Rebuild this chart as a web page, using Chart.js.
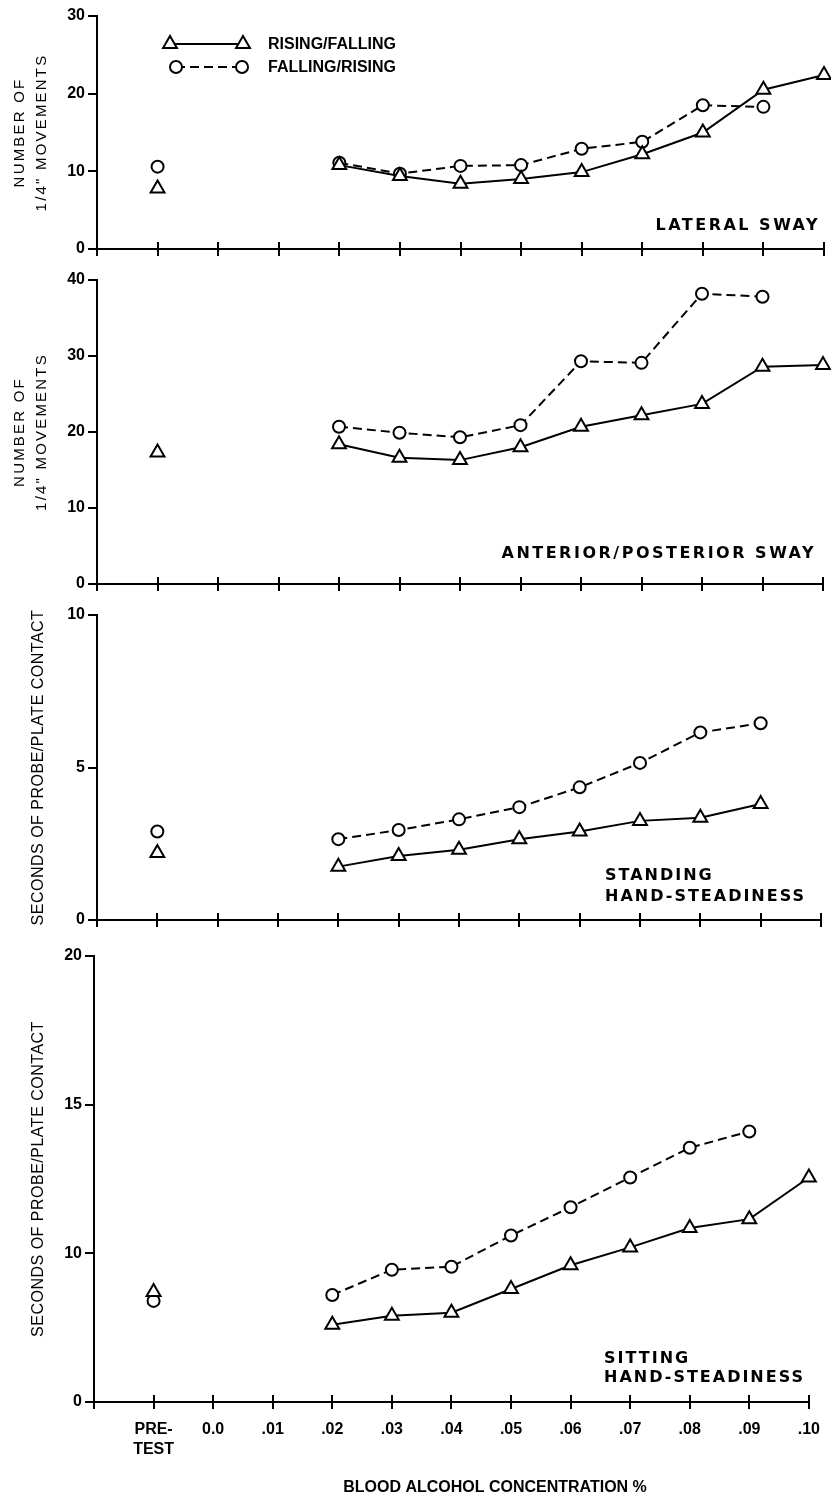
<!DOCTYPE html>
<html>
<head>
<meta charset="utf-8">
<script src="https://cdn.jsdelivr.net/npm/chart.js@4.4.1/dist/chart.umd.min.js"></script>
<style>
  body { margin: 0; background: #fff; }
  .panel { position: absolute; left: 0; }
</style>
</head>
<body>
<div class="panel" style="top:0px"><canvas id="lateral" width="831" height="262"></canvas></div>
<div class="panel" style="top:262px"><canvas id="anterior" width="831" height="335"></canvas></div>
<div class="panel" style="top:597px"><canvas id="standing" width="831" height="336"></canvas></div>
<div class="panel" style="top:933px"><canvas id="sitting" width="831" height="568"></canvas></div>
<script>
// x categories; the blank first one is the stretch of axis left of PRE-TEST
const categories = ['', ['PRE-', 'TEST'], '0.0', '.01', '.02', '.03', '.04', '.05', '.06', '.07', '.08', '.09', '.10'];

// values from PRE-TEST through .10
const lateralRising   = [7.8, null, null, 10.8, 9.4, 8.4, 9.0, 9.9, 12.2, 15.0, 20.5, 22.4];
const lateralFalling  = [10.6, null, null, 11.1, 9.7, 10.7, 10.8, 12.9, 13.8, 18.5, 18.3, null];
const apRising        = [17.3, null, null, 18.4, 16.6, 16.3, 18.0, 20.7, 22.2, 23.7, 28.6, 28.8];
const apFalling       = [null, null, null, 20.7, 19.9, 19.3, 20.9, 29.3, 29.1, 38.2, 37.8, null];
const standingRising  = [2.2, null, null, 1.75, 2.1, 2.3, 2.65, 2.9, 3.25, 3.35, 3.8, null];
const standingFalling = [2.9, null, null, 2.65, 2.95, 3.3, 3.7, 4.35, 5.15, 6.15, 6.45, null];
const sittingRising   = [8.7, null, null, 7.6, 7.9, 8.0, 8.8, 9.6, 10.2, 10.85, 11.15, 12.55];
const sittingFalling  = [8.4, null, null, 8.6, 9.45, 9.55, 10.6, 11.55, 12.55, 13.55, 14.1, null];

const lateralTickLabels  = ['0', '10', '20', '30'];
const apTickLabels       = ['0', '10', '20', '30', '40'];
const standingTickLabels = ['0', '5', '10'];
const sittingTickLabels  = ['0', '10', '15', '20'];   // bottom tick is drawn at 5 in the original

const seriesNames = ['RISING/FALLING', 'FALLING/RISING'];

const sans = "'Liberation Sans', Arial, Helvetica, sans-serif";
const wide = "'DejaVu Sans', Verdana, sans-serif";
Chart.defaults.font.family = sans;
Chart.defaults.color = '#000';

function drawMarker(ctx, style, r, x, y) {
    ctx.beginPath();
    if (style === 'triangle') {
        for (let k = 0; k < 3; k++) {
            const a = k * 2 * Math.PI / 3;
            const px = x + Math.sin(a) * r, py = y - Math.cos(a) * r;
            if (k) ctx.lineTo(px, py); else ctx.moveTo(px, py);
        }
        ctx.closePath();
    } else {
        ctx.arc(x, y, r, 0, 2 * Math.PI);
    }
    ctx.fillStyle = '#fff';
    ctx.fill();
    ctx.stroke();
}

// letter spacing for the y axis title only (tick labels are drawn after datasets)
const titleSpacing = {
    id: 'titleSpacing',
    beforeDraw(chart, args, opts) { chart.ctx.letterSpacing = opts.spacing || '0px'; },
    beforeDatasetsDraw(chart) { chart.ctx.letterSpacing = '0px'; }
};

// x ticks cross the axis: draw the upper half
const crossTicks = {
    id: 'crossTicks',
    afterDraw(chart) {
        const x = chart.scales.x, ctx = chart.ctx;
        ctx.save();
        ctx.strokeStyle = '#000';
        ctx.lineWidth = 2;
        for (let i = 1; i < categories.length; i++) {
            const px = Math.round(x.getPixelForTick(i));
            ctx.beginPath();
            ctx.moveTo(px, chart.chartArea.bottom);
            ctx.lineTo(px, chart.chartArea.bottom - 7);
            ctx.stroke();
        }
        ctx.restore();
    }
};

const panelText = {
    id: 'panelText',
    afterDraw(chart, args, opts) {
        const ctx = chart.ctx, area = chart.chartArea;
        (opts.items || []).forEach(item => {
            ctx.save();
            ctx.font = item.font;
            ctx.letterSpacing = item.spacing || '0px';
            ctx.fillStyle = '#000';
            ctx.textAlign = item.align;
            ctx.textBaseline = 'alphabetic';
            const x = item.align === 'right' ? area.right + item.dx : area.left + item.dx;
            item.lines.forEach((line, i) => {
                ctx.fillText(line, x, area.bottom + item.dy + i * item.gap);
            });
            ctx.restore();
        });
    }
};

const pairLegend = {
    id: 'pairLegend',
    afterDraw(chart, args, opts) {
        if (!opts.show) return;
        const ctx = chart.ctx, area = chart.chartArea;
        chart.data.datasets.forEach((ds, i) => {
            const row = opts.rows[i];
            const y = area.top + row.dy;
            ctx.save();
            ctx.strokeStyle = '#000';
            ctx.lineWidth = ds.borderWidth;
            ctx.setLineDash(ds.borderDash || []);
            ctx.beginPath();
            ctx.moveTo(area.left + row.x0, y);
            ctx.lineTo(area.left + row.x1, y);
            ctx.stroke();
            ctx.setLineDash([]);
            ctx.lineWidth = ds.pointBorderWidth;
            drawMarker(ctx, ds.pointStyle, ds.pointRadius, area.left + row.x0, y);
            drawMarker(ctx, ds.pointStyle, ds.pointRadius, area.left + row.x1, y);
            ctx.font = 'bold 16px ' + sans;
            ctx.fillStyle = '#000';
            ctx.textBaseline = 'middle';
            ctx.fillText(ds.label, area.left + opts.textX, y + 1);
            ctx.restore();
        });
    }
};

function makeDatasets(rising, falling) {
    const common = {
        borderColor: '#000',
        borderWidth: 2,
        pointBorderColor: '#000',
        pointBackgroundColor: '#fff',
        pointBorderWidth: 2,
        tension: 0,
        spanGaps: false,
        clip: false
    };
    return [
        Object.assign({}, common, {
            label: seriesNames[0],
            data: [null].concat(rising),
            pointStyle: 'triangle',
            pointRadius: 8
        }),
        Object.assign({}, common, {
            label: seriesNames[1],
            data: [null].concat(falling),
            pointStyle: 'circle',
            pointRadius: 6,
            borderDash: [9, 5]
        })
    ];
}

function makeChart(p) {
    return new Chart(document.getElementById(p.id), {
        type: 'line',
        data: {
            labels: categories,
            datasets: makeDatasets(p.rising, p.falling)
        },
        plugins: [titleSpacing, crossTicks, panelText, pairLegend],
        options: {
            responsive: false,
            animation: false,
            events: [],
            layout: {
                autoPadding: false,
                padding: { top: p.padTop, right: 831 - p.plotRight, bottom: 0, left: 0 }
            },
            plugins: {
                legend: { display: false },
                tooltip: { enabled: false },
                titleSpacing: { spacing: p.titleSpacing },
                panelText: { items: p.texts },
                pairLegend: {
                    show: !!p.legend,
                    textX: 171,
                    rows: [{ dy: 28, x0: 73, x1: 146 }, { dy: 51, x0: 79, x1: 145 }]
                }
            },
            scales: {
                x: {
                    type: 'category',
                    offset: false,
                    afterFit: s => { s.height = p.xHeight; },
                    border: { display: true, color: '#000', width: 2 },
                    grid: { drawOnChartArea: false, drawTicks: true, tickLength: 7, color: '#000', lineWidth: 2 },
                    ticks: {
                        display: !!p.xLabels,
                        autoSkip: false,
                        maxRotation: 0,
                        padding: 11,
                        z: 1,
                        font: { size: 16, weight: 'bold', lineHeight: 1.25 }
                    }
                },
                y: {
                    min: p.min,
                    max: p.max,
                    afterFit: s => { s.width = p.plotLeft; },
                    border: { display: true, color: '#000', width: 2 },
                    grid: { drawOnChartArea: false, drawTicks: true, tickLength: 9, color: '#000', lineWidth: 2 },
                    ticks: {
                        stepSize: p.step,
                        padding: 3,
                        z: 1,
                        font: { size: 16, weight: 'bold' },
                        callback: (value, index) => p.tickLabels[index]
                    },
                    title: {
                        display: true,
                        text: p.yTitle,
                        color: '#000',
                        padding: { top: p.titlePad, bottom: 0 },
                        font: { size: p.titleSize, lineHeight: p.titleLine }
                    }
                }
            }
        }
    });
}

const titleFont = 'bold 16px ' + wide;
const movementsTitle = ['NUMBER OF', '1/4" MOVEMENTS'];
const contactTitle = 'SECONDS OF PROBE/PLATE CONTACT';

makeChart({
    id: 'lateral', rising: lateralRising, falling: lateralFalling,
    min: 0, max: 30, step: 10, tickLabels: lateralTickLabels,
    padTop: 16, xHeight: 13, plotLeft: 97, plotRight: 824,
    yTitle: movementsTitle, titleSize: 15, titleLine: 22 / 15, titlePad: 9, titleSpacing: '2.2px',
    legend: true,
    texts: [{ lines: ['LATERAL SWAY'], font: titleFont, spacing: '2.5px', align: 'right', dx: -4, dy: -19, gap: 0 }]
});

makeChart({
    id: 'anterior', rising: apRising, falling: apFalling,
    min: 0, max: 40, step: 10, tickLabels: apTickLabels,
    padTop: 18, xHeight: 13, plotLeft: 97, plotRight: 823,
    yTitle: movementsTitle, titleSize: 15, titleLine: 22 / 15, titlePad: 9, titleSpacing: '2.2px',
    texts: [{ lines: ['ANTERIOR/POSTERIOR SWAY'], font: titleFont, spacing: '2.5px', align: 'right', dx: -7, dy: -26, gap: 0 }]
});

makeChart({
    id: 'standing', rising: standingRising, falling: standingFalling,
    min: 0, max: 10, step: 5, tickLabels: standingTickLabels,
    padTop: 18, xHeight: 13, plotLeft: 97, plotRight: 821,
    yTitle: contactTitle, titleSize: 16, titleLine: 1.2, titlePad: 29, titleSpacing: '0.5px',
    texts: [{ lines: ['STANDING', 'HAND-STEADINESS'], font: titleFont, spacing: '2px', align: 'left', dx: 508, dy: -40, gap: 21 }]
});

makeChart({
    id: 'sitting', rising: sittingRising, falling: sittingFalling,
    min: 5, max: 20, step: 5, tickLabels: sittingTickLabels,
    padTop: 23, xHeight: 99, plotLeft: 94, plotRight: 818,
    yTitle: contactTitle, titleSize: 16, titleLine: 1.2, titlePad: 29, titleSpacing: '0.5px',
    xLabels: true,
    texts: [
        { lines: ['SITTING', 'HAND-STEADINESS'], font: titleFont, spacing: '2px', align: 'left', dx: 510, dy: -39, gap: 19 },
        { lines: ['BLOOD ALCOHOL CONCENTRATION %'], font: 'bold 16px ' + sans, align: 'center', dx: 401, dy: 90, gap: 0 }
    ]
});
</script>
</body>
</html>
